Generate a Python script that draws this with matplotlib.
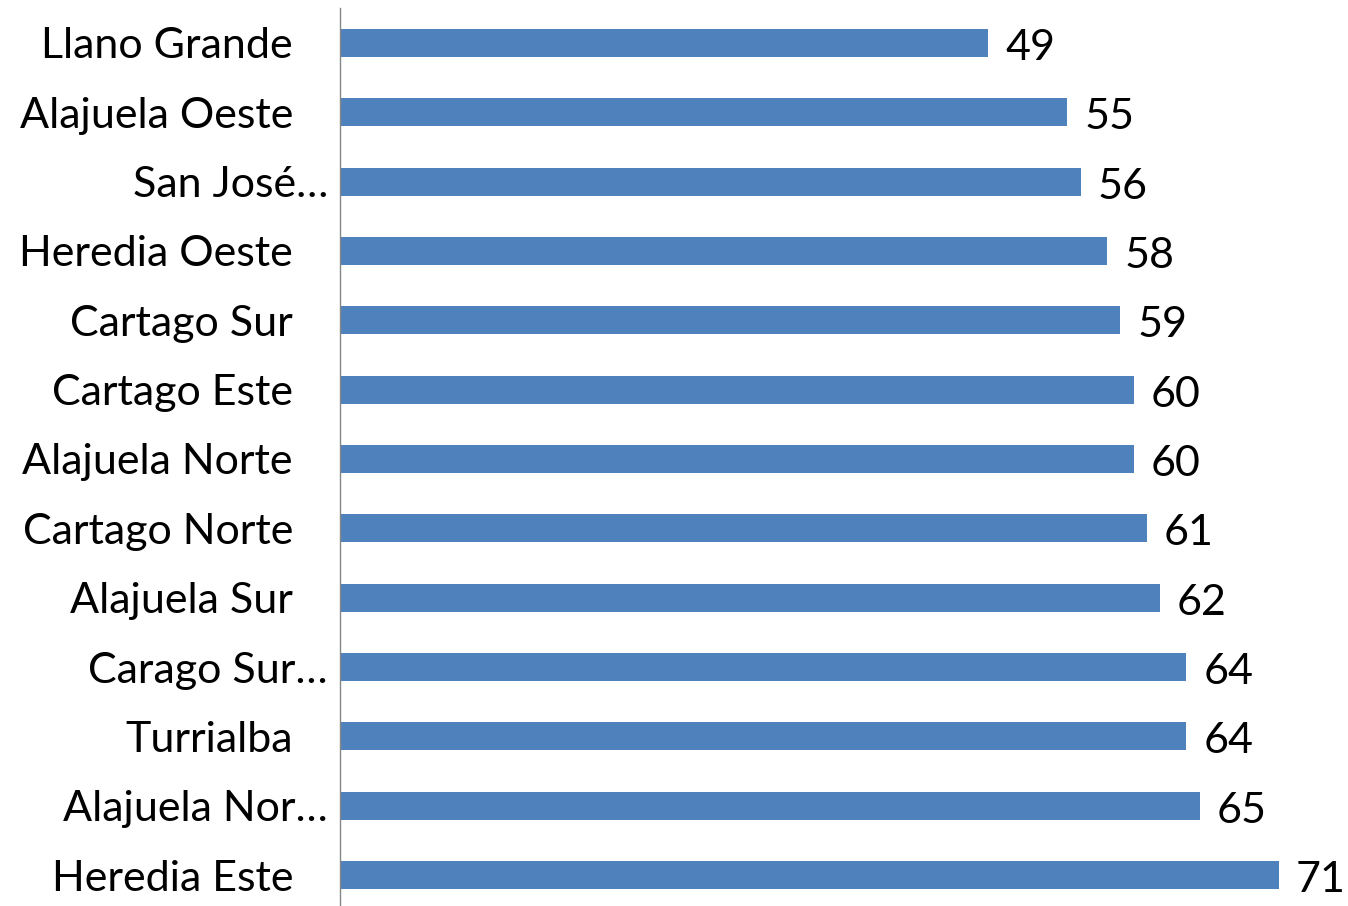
import matplotlib
matplotlib.use("Agg")
import matplotlib.pyplot as plt
import matplotlib.transforms as mtransforms

# Data, top to bottom as shown in the chart
regions = ["Llano Grande", "Alajuela Oeste", "San José…", "Heredia Oeste",
           "Cartago Sur", "Cartago Este", "Alajuela Norte", "Cartago Norte",
           "Alajuela Sur", "Carago Sur…", "Turrialba", "Alajuela Nor…",
           "Heredia Este"]
values = [49, 55, 56, 58, 59, 60, 60, 61, 62, 64, 64, 65, 71]

BAR_COLOR = "#4F81BD"
AXIS_COLOR = "#868686"
FONT = "Lato"
FS = 31

W, H = 1348, 906
fig = plt.figure(figsize=(W / 100, H / 100), dpi=100)

# axes placed in pixels: left edge at x=340, spans vertically a bit past the bottom
ax_left, ax_top, ax_bottom = 340, 8.3, 909.7
ax = fig.add_axes([ax_left / W, (H - ax_bottom) / H, 1 - ax_left / W, (ax_bottom - ax_top) / H])

y = list(range(len(regions)))
ax.barh(y, values, height=0.40, color=BAR_COLOR, zorder=2)
ax.set_xlim(0, (W - ax_left) / 13.225)
ax.set_ylim(len(regions) - 0.5, -0.5)

for s in ["top", "right", "bottom"]:
    ax.spines[s].set_visible(False)
ax.spines["left"].set_color(AXIS_COLOR)
ax.spines["left"].set_linewidth(1.0)
ax.set_xticks([])

ax.set_yticks(y)
ax.set_yticklabels(regions, fontsize=FS, family=FONT, color="black")
ax.tick_params(axis="y", length=0, pad=47 * 72 / 100)

# truncated labels sit closer to the axis
for lbl in ax.get_yticklabels():
    if lbl.get_text().endswith("…"):
        lbl.set_transform(lbl.get_transform() +
                          mtransforms.ScaledTranslation(35 / 100, 0, fig.dpi_scale_trans))

# value labels
for yi, v in zip(y, values):
    ax.annotate(str(v), xy=(v, yi), xytext=(17, -5), textcoords="offset pixels",
                ha="left", va="center", fontsize=FS, family=FONT, color="black")

fig.savefig("out.png", dpi=100)
